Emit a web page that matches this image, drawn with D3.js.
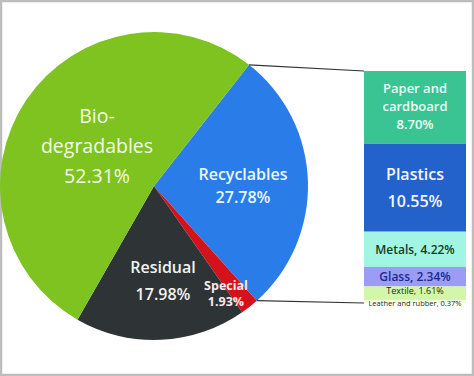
<!DOCTYPE html>
<html><head><meta charset="utf-8">
<script src="https://cdn.jsdelivr.net/npm/d3@7"></script>
<style>body{margin:0;background:#fff}svg{display:block}text{font-family:"Open Sans","Noto Sans",sans-serif}</style>
</head><body><svg id="c" width="474" height="376"></svg>
<script>
const pieCategories = ["Recyclables","Special","Residual","Biodegradables"];
const pieValues = [27.78, 1.93, 17.98, 52.31];
const pieLabels = [["Recyclables","27.78%"],["Special","1.93%"],["Residual","17.98%"],["Bio-","degradables","52.31%"]];
const pieColors = ["#2a7de8","#d3121c","#2e3436","#7ec31f"];
const pieTextColors = ["#e8f8ff","#ffe8ee","#f2f2f2","#f4fbe6"];

const barCategories = ["Paper and cardboard","Plastics","Metals","Glass","Textile","Leather and rubber"];
const barValues = [8.70, 10.55, 4.22, 2.34, 1.61, 0.37];
const barLabels = [["Paper and","cardboard","8.70%"],["Plastics","10.55%"],["Metals, 4.22%"],["Glass, 2.34%"],["Textile, 1.61%"],["Leather and rubber, 0.37%"]];
const barColors = ["#3ac494","#2462cb","#a2f5e3","#9c9cf4","#d2f7a8","#f6fbe0"];
const barTextColors = ["#eafff5","#f2f6ff","#123e22","#1b2a8f","#1d2a10","#1d2a10"];

const svg = d3.select("#c");
svg.append("rect").attr("x",1).attr("y",1).attr("width",472).attr("height",374)
  .attr("fill","#fff").attr("stroke","#bdbdbd").attr("stroke-width",2.5);

const cx = 154, cy = 186, r = 154;
const start = 0.665;
const pie = d3.pie().sort(null).startAngle(start).endAngle(start + 2*Math.PI);
const arcs = pie(pieValues);
const arc = d3.arc().innerRadius(0).outerRadius(r);
const g = svg.append("g").attr("transform",`translate(${cx},${cy})`);
g.selectAll("path").data(arcs).join("path").attr("d",arc).attr("fill",(d,i)=>pieColors[i]);

const pt = a => [cx + r*Math.sin(a), cy - r*Math.cos(a)];
const recArc = arcs[0];
const p1 = pt(recArc.startAngle), p2 = pt(recArc.endAngle);

const barX = 364, barW = 102, barTop = 71, barBottom = 303;
const total = d3.sum(barValues);
const y = d3.scaleLinear().domain([0,total]).range([barTop,barBottom]);
const cum = d3.cumsum(barValues);
const segs = barValues.map((v,i)=>({v, y0: y(cum[i]-v), y1: y(cum[i]), i}));

svg.append("line").attr("x1",p1[0]).attr("y1",p1[1]).attr("x2",barX).attr("y2",barTop)
  .attr("stroke","#333").attr("stroke-width",1.2);
svg.append("line").attr("x1",p2[0]).attr("y1",p2[1]).attr("x2",barX).attr("y2",barBottom)
  .attr("stroke","#333").attr("stroke-width",1.2);

svg.append("g").selectAll("rect").data(segs).join("rect")
  .attr("x",barX).attr("width",barW).attr("y",d=>d.y0).attr("height",d=>d.y1-d.y0)
  .attr("fill",d=>barColors[d.i]);

const pieLabelPos = [[243,180,16,23],[226,290,12.5,16],[163,273,16,27],[97,123,19.5,30]];
const pieWeight = [600,700,600,500];
pieLabels.forEach((lines,i)=>{
  const [x,yb,fs,lh] = pieLabelPos[i];
  lines.forEach((t,j)=>{
    svg.append("text").attr("x",x).attr("y",yb + j*lh).attr("text-anchor","middle")
      .attr("font-size",fs).attr("font-weight", pieWeight[i]).attr("fill",pieTextColors[i]).text(t);
  });
});

const barFont = [[13,18],[16,27],[12,0],[12,0],[9,0],[7.5,0]];
const barWeight = [600,600,600,600,500,500];
segs.forEach(s=>{
  const lines = barLabels[s.i];
  const [fs,lh] = barFont[s.i];
  let mid = (s.y0+s.y1)/2;
  if (s.i===0) mid -= 1;
  if (s.i===4) mid = s.y0 + 4.5;
  if (s.i===5) mid = s.y1 + 0.5;
  const blockH = (lines.length-1)*lh;
  lines.forEach((t,j)=>{
    svg.append("text").attr("x",barX+barW/2).attr("y",mid - blockH/2 + j*lh + fs*0.36)
      .attr("text-anchor","middle").attr("font-size",fs).attr("font-weight",barWeight[s.i])
      .attr("fill",barTextColors[s.i]).text(t);
  });
});
</script></body></html>
